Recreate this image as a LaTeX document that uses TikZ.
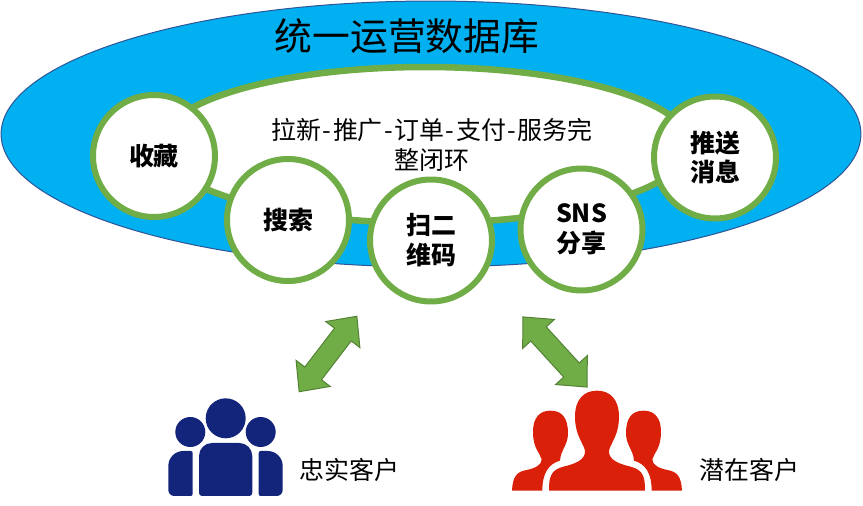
\documentclass[tikz,border=0pt]{standalone}
\usepackage{fontspec}
\setmainfont{Noto Sans CJK SC}
\definecolor{dbblue}{RGB}{0,176,240}
\definecolor{dbedge}{RGB}{47,85,151}
\definecolor{loopgreen}{RGB}{112,173,71}
\definecolor{arrowedge}{RGB}{84,130,53}
\definecolor{loyalblue}{RGB}{19,36,123}
\definecolor{leadred}{RGB}{218,32,8}
\usetikzlibrary{positioning,shapes.geometric,shapes.arrows}
\newcommand{\lnk}{\kern0.03cm-\kern0.03cm}

\begin{document}
\begin{tikzpicture}[
  x=0.02cm, y=-0.02cm,
  touch/.style={circle, draw=loopgreen, fill=white, line width=0.12cm, minimum size=2.44cm, inner sep=0pt, align=center, font=\fontsize{14.2}{17}\selectfont\bfseries},
  bigarrow/.style={double arrow, draw=arrowedge, fill=loopgreen, line width=0.02cm, minimum width=0.86cm, minimum height=1.9cm, double arrow head extend=0.22cm, double arrow tip angle=86, inner xsep=0pt, inner ysep=0.2cm},
  label/.style={font=\fontsize{14.2}{17}\selectfont, align=center}
]
  \useasboundingbox (0,0) rectangle (863,506);
  %% Database ellipse
  \node[ellipse, draw=dbedge, fill=dbblue, line width=0.02cm, minimum width=17.2cm, minimum height=5.32cm, inner sep=0pt] (db) at (431,134) {};
  \node[font=\fontsize{21.5}{26}\selectfont] (dbtitle) at (407,36) {统一运营数据库};
  %% Closed loop
  \node[ellipse, draw=loopgreen, fill=white, line width=0.13cm, minimum width=10.6cm, minimum height=3.12cm, inner sep=0pt] (loop) at (425,145) {};
  \node[label] (looptext) at (432,145) {拉新\lnk 推广\lnk 订单\lnk 支付\lnk 服务完\\整闭环};
  %% Touch points
  \node[touch] (fav) at (154,156) {收藏};
  \node[touch] (search) at (288,220) {搜索};
  \node[touch] (qr) at (431,240.5) {扫二\\维码};
  \node[touch] (sns) at (581.5,229.5) {SNS\\分享};
  \node[touch] (push) at (715,157.5) {推送\\消息};
  %% Arrows
  \node[bigarrow, rotate=52.6] (arrowleft) at (328,354) {};
  \node[bigarrow, rotate=-47.6] (arrowright) at (555,352) {};
  %% Loyal customers
  \fill[loyalblue] (225.7,418.3) circle (20);
  \fill[loyalblue] (190.3,432) circle (15);
  \fill[loyalblue] (260.7,432) circle (15);
  \fill[loyalblue] (199,470) [rounded corners=0.26cm] -- (199,443) -- (252.3,443) -- (252.3,470) [rounded corners=0.06cm] -- (252.3,496) -- (199,496) -- cycle;
  \fill[loyalblue] (168.3,475) [rounded corners=0.3cm] -- (168.3,451) [rounded corners=0.04cm] -- (192.7,451) -- (192.7,496) [rounded corners=0.12cm] -- (168.3,496) -- cycle;
  \fill[loyalblue] (282.7,475) [rounded corners=0.3cm] -- (282.7,451) [rounded corners=0.04cm] -- (258.7,451) -- (258.7,496) [rounded corners=0.12cm] -- (282.7,496) -- cycle;
  \node[label, right] (loyal) at (293,470) {忠实客户};
  %% Potential customers
  \begin{scope}[shift={(500,300)}, x=0.00667cm, y=-0.00667cm]
    \fill[leadred] (147,572) .. controls (147,535) and (150,510) .. (190,500) .. controls (225,492) and (255,480) .. (255,455)
      .. controls (255,435) and (225,410) .. (225,350) .. controls (225,298) and (252,272) .. (291,272)
      .. controls (330,272) and (357,298) .. (357,350) .. controls (357,410) and (327,435) .. (327,455)
      .. controls (327,480) and (357,492) .. (392,500) .. controls (432,510) and (435,535) .. (435,572) -- cycle;
    \foreach \side/\flip in {0/1, 582/-1} {
      \begin{scope}[xshift=\side*0.00667cm, xscale=\flip]
        \fill[leadred] (36,572) .. controls (38,530) and (50,515) .. (80,510) .. controls (105,505) and (125,495) .. (125,478)
          .. controls (118,455) and (99,445) .. (99,395) .. controls (99,352) and (120,332) .. (151,332)
          .. controls (185,332) and (204,352) .. (204,400) .. controls (204,435) and (182,450) .. (180,482)
          .. controls (145,492) and (127,520) .. (127,572) -- cycle;
      \end{scope}
    }
  \end{scope}
  \node[label, right] (potential) at (693,470) {潜在客户};
\end{tikzpicture}
\end{document}
